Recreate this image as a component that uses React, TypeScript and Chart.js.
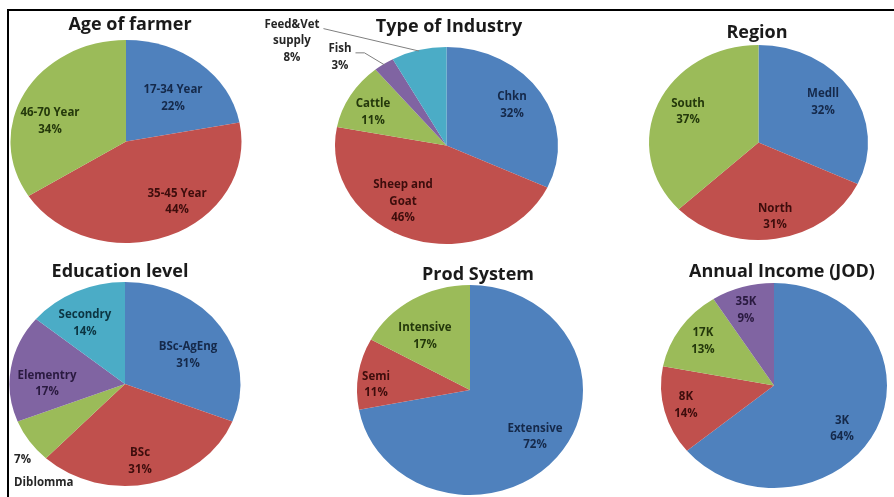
import React, { useEffect, useRef } from 'react';
import { Chart, registerables } from 'chart.js';

Chart.register(...registerables);

// ---------- data ----------
const ageCategories = ['17-34 Year', '35-45 Year', '46-70 Year'];
const ageValues = [22, 44, 34];

const industryCategories = ['Chkn', 'Sheep and Goat', 'Cattle', 'Fish', 'Feed&Vet supply'];
const industryValues = [32, 46, 11, 3, 8];

const regionCategories = ['Medll', 'North', 'South'];
const regionValues = [32, 31, 37];

const educationCategories = ['BSc-AgEng', 'BSc', 'Diblomma', 'Elementry', 'Secondry'];
const educationValues = [31, 31, 7, 17, 14];

const prodCategories = ['Extensive', 'Semi', 'Intensive'];
const prodValues = [72, 11, 17];

const incomeCategories = ['3K', '8K', '17K', '35K'];
const incomeValues = [64, 14, 13, 9];

// ---------- styles ----------
const BLUE = '#4F81BD';
const RED = '#C0504D';
const GREEN = '#9BBB59';
const PURPLE = '#8064A2';
const AQUA = '#4BACC6';

const TEXT_ON: Record<string, string> = {
  [BLUE]: '#15294a',
  [RED]: '#3d0d0c',
  [GREEN]: '#24380b',
  [PURPLE]: '#2a1a40',
  [AQUA]: '#0c3542',
};
const OUTSIDE_TEXT = '#262626';
const LABEL_FONT = 'bold 11.5px "Open Sans"';
const TITLE_FONT = 'bold 18px "Open Sans"';
const LINE_GAP = 16.5;

type Place = {
  r: number; // radial fraction of radius
  d: number; // angular shift (deg, clockwise) from slice mid-angle
  align?: 'left' | 'center';
  gap?: number;
  pctFirst?: boolean;
  outside?: boolean;
  leader?: { elbow: number };
};

interface Spec {
  title: string;
  tx: number;
  ty: number;
  categories: string[];
  values: number[];
  colors: string[];
  cell: [number, number, number, number];
  cx: number;
  cy: number;
  rx: number;
  ry: number;
  wrap?: number;
  places: Place[];
}

const specs: Spec[] = [
  {
    title: 'Age of farmer', tx: 130, ty: 25,
    categories: ageCategories, values: ageValues, colors: [BLUE, RED, GREEN],
    cell: [9, 11, 249, 247], cx: 126, cy: 141.5, rx: 115.5, ry: 101.5,
    places: [{ r: 0.588, d: 4.2 }, { r: 0.738, d: -15.2 }, { r: 0.687, d: -12.1 }],
  },
  {
    title: 'Type of Industry', tx: 449, ty: 27,
    categories: industryCategories, values: industryValues, colors: [BLUE, RED, GREEN, PURPLE, AQUA],
    cell: [258, 11, 342, 247], cx: 446.5, cy: 145.5, rx: 111.5, ry: 98.5, wrap: 70,
    places: [
      { r: 0.717, d: -2.6 },
      { r: 0.69, d: 16.4 },
      { r: 0.742, d: -3.3 },
      { r: 1.311, d: -12.6, outside: true, leader: { elbow: 9 } },
      { r: 1.745, d: -38.2, outside: true, leader: { elbow: 0 } },
    ],
  },
  {
    title: 'Region', tx: 757, ty: 32.5,
    categories: regionCategories, values: regionValues, colors: [BLUE, RED, GREEN],
    cell: [600, 11, 294, 247], cx: 758.5, cy: 142.5, rx: 109.5, ry: 97.5,
    places: [{ r: 0.721, d: -2.8 }, { r: 0.774, d: -2.3 }, { r: 0.718, d: 2.9 }],
  },
  {
    title: 'Education level', tx: 120, ty: 271.7,
    categories: educationCategories, values: educationValues, colors: [BLUE, RED, GREEN, PURPLE, AQUA],
    cell: [9, 258, 249, 239], cx: 125, cy: 384, rx: 115.5, ry: 102,
    places: [
      { r: 0.615, d: 6.7 },
      { r: 0.766, d: 2.8 },
      { r: 1.288, d: -7.6, align: 'left', gap: 23, pctFirst: true, outside: true },
      { r: 0.675, d: -8.6 },
      { r: 0.691, d: -4.9 },
    ],
  },
  {
    title: 'Prod System', tx: 478, ty: 275,
    categories: prodCategories, values: prodValues, colors: [BLUE, RED, GREEN],
    cell: [258, 258, 342, 239], cx: 470, cy: 390, rx: 113, ry: 105,
    places: [{ r: 0.726, d: -2 }, { r: 0.833, d: -5.7 }, { r: 0.647, d: -7.4 }],
  },
  {
    title: 'Annual Income (JOD)', tx: 782, ty: 271.7,
    categories: incomeCategories, values: incomeValues, colors: [BLUE, RED, GREEN, PURPLE],
    cell: [600, 258, 294, 239], cx: 774, cy: 385.5, rx: 113, ry: 102.5,
    places: [{ r: 0.734, d: 9.7 }, { r: 0.802, d: 0.7 }, { r: 0.764, d: 0.4 }, { r: 0.777, d: -2.4 }],
  },
];

function wrapText(ctx: CanvasRenderingContext2D, text: string, maxW?: number): string[] {
  if (!maxW) return [text];
  const words = text.split(' ');
  const lines: string[] = [];
  let cur = '';
  for (const w of words) {
    const test = cur ? cur + ' ' + w : w;
    if (cur && ctx.measureText(test).width > maxW) {
      lines.push(cur);
      cur = w;
    } else {
      cur = test;
    }
  }
  if (cur) lines.push(cur);
  return lines;
}

function makePlugin(spec: Spec) {
  const sx = spec.rx / spec.ry;
  return {
    id: 'ellipsePie',
    beforeDatasetsDraw(chart: any) {
      const ctx: CanvasRenderingContext2D = chart.ctx;
      const a = chart.chartArea;
      const cx = (a.left + a.right) / 2;
      const cy = (a.top + a.bottom) / 2;
      ctx.save();
      ctx.translate(cx, cy);
      ctx.scale(sx, 1);
      ctx.translate(-cx, -cy);
    },
    afterDatasetsDraw(chart: any) {
      const ctx: CanvasRenderingContext2D = chart.ctx;
      ctx.restore();

      // title
      ctx.save();
      ctx.font = TITLE_FONT;
      ctx.fillStyle = '#1a1a1a';
      ctx.textAlign = 'center';
      ctx.textBaseline = 'middle';
      ctx.fillText(spec.title, spec.tx - spec.cell[0], spec.ty - spec.cell[1]);
      ctx.restore();

      // data labels
      const meta = chart.getDatasetMeta(0);
      ctx.save();
      ctx.font = LABEL_FONT;
      ctx.textBaseline = 'middle';
      meta.data.forEach((el: any, i: number) => {
        const p = el.getProps(['x', 'y', 'startAngle', 'endAngle', 'outerRadius'], true);
        const pl = spec.places[i];
        const mid = (p.startAngle + p.endAngle) / 2;
        const ang = mid + (pl.d * Math.PI) / 180;
        const R = p.outerRadius;
        const lx = p.x + Math.cos(ang) * pl.r * R * sx;
        const ly = p.y + Math.sin(ang) * pl.r * R;
        const catLines = wrapText(ctx, spec.categories[i], spec.wrap);
        const pct = spec.values[i] + '%';
        const lines = pl.pctFirst ? [pct, ...catLines] : [...catLines, pct];
        const gap = pl.gap ?? LINE_GAP;
        const n = lines.length;
        ctx.fillStyle = pl.outside ? OUTSIDE_TEXT : TEXT_ON[spec.colors[i]] || '#222';
        ctx.textAlign = pl.align === 'left' ? 'left' : 'center';
        lines.forEach((t, k) => {
          ctx.fillText(t, lx, ly + (k - (n - 1) / 2) * gap);
        });
        if (pl.leader) {
          const y0 = ly - ((n - 1) / 2) * gap + 4;
          const w0 = ctx.measureText(lines[0]).width;
          const x0 = lx + w0 / 2 + 4;
          const ex = p.x + Math.cos(mid) * R * 0.99 * sx;
          const ey = p.y + Math.sin(mid) * R * 0.99;
          ctx.beginPath();
          ctx.moveTo(x0, y0);
          if (pl.leader.elbow) ctx.lineTo(x0 + pl.leader.elbow, y0);
          ctx.lineTo(ex, ey);
          ctx.strokeStyle = '#7f7f7f';
          ctx.lineWidth = 1;
          ctx.stroke();
        }
      });
      ctx.restore();
    },
  };
}

function PieCell({ spec }: { spec: Spec }) {
  const ref = useRef<HTMLCanvasElement | null>(null);
  useEffect(() => {
    const [x, y, w, h] = spec.cell;
    const padding = {
      left: spec.cx - spec.ry - x,
      right: x + w - spec.cx - spec.ry,
      top: spec.cy - spec.ry - y,
      bottom: y + h - spec.cy - spec.ry,
    };
    const chart = new Chart(ref.current as HTMLCanvasElement, {
      type: 'pie',
      data: {
        labels: spec.categories,
        datasets: [
          {
            data: spec.values,
            backgroundColor: spec.colors,
            borderColor: spec.colors,
            borderWidth: 0,
            hoverBorderWidth: 0,
            hoverOffset: 0,
            offset: 0,
            clip: false as any,
          },
        ],
      },
      options: {
        animation: false,
        responsive: true,
        maintainAspectRatio: false,
        devicePixelRatio: 1,
        events: [],
        layout: { padding },
        plugins: {
          legend: { display: false },
          tooltip: { enabled: false },
          title: { display: false },
        },
      },
      plugins: [makePlugin(spec) as any],
    });
    return () => chart.destroy();
  }, [spec]);
  const [x, y, w, h] = spec.cell;
  return (
    <div style={{ position: 'absolute', left: x, top: y, width: w, height: h }}>
      <canvas ref={ref} />
    </div>
  );
}

export default function App() {
  return (
    <div
      style={{
        position: 'fixed',
        left: 0,
        top: 0,
        width: 894,
        height: 497,
        background: '#ffffff',
        overflow: 'hidden',
      }}
    >
      <div style={{ position: 'absolute', left: 7, top: 9, width: 887, height: 2, background: '#000' }} />
      <div style={{ position: 'absolute', left: 7, top: 9, width: 2, height: 488, background: '#000' }} />
      {specs.map((s) => (
        <PieCell key={s.title} spec={s} />
      ))}
    </div>
  );
}
